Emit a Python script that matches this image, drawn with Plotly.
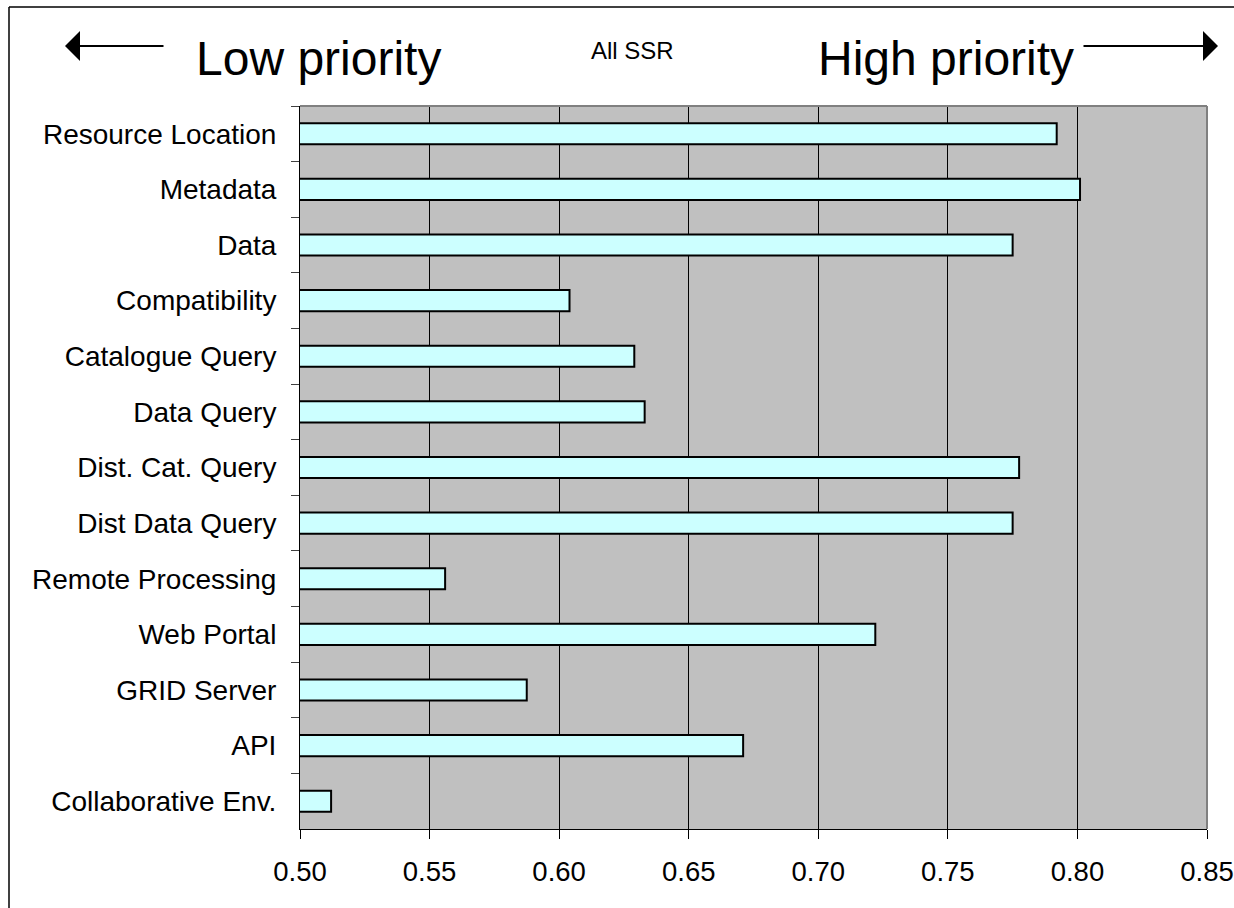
import plotly.graph_objects as go

categories = ["Resource Location", "Metadata", "Data", "Compatibility", "Catalogue Query",
              "Data Query", "Dist. Cat. Query", "Dist Data Query", "Remote Processing",
              "Web Portal", "GRID Server", "API", "Collaborative Env."]
values = [0.792, 0.801, 0.775, 0.604, 0.629, 0.633, 0.7775, 0.775, 0.556, 0.722, 0.5875, 0.671, 0.512]
x_ticks = [0.50, 0.55, 0.60, 0.65, 0.70, 0.75, 0.80, 0.85]
x_tick_labels = ["0.50", "0.55", "0.60", "0.65", "0.70", "0.75", "0.80", "0.85"]

W, H = 1234, 908
L, R, T, B = 300, 1207, 106, 829

def px(x):
    return (x - L) / (R - L)

def py(y):
    return (B - y) / (B - T)

FONT = "Arial, Liberation Sans, sans-serif"

fig = go.Figure(go.Bar(
    y=categories, x=values, orientation="h",
    marker=dict(color="#CCFFFF", line=dict(color="black", width=2)),
))

fig.update_layout(
    width=W, height=H,
    margin=dict(l=L, r=W - R, t=T, b=H - B, pad=0, autoexpand=False),
    paper_bgcolor="white", plot_bgcolor="#C0C0C0",
    bargap=0.62, showlegend=False,
    font=dict(family=FONT, color="black"),
    xaxis=dict(range=[0.5, 0.85], tickvals=x_ticks, ticktext=x_tick_labels,
               showgrid=True, gridcolor="black", gridwidth=1,
               ticks="outside", ticklen=9, tickcolor="black",
               showline=True, linecolor="black", linewidth=1,
               tickfont=dict(size=27.5, family=FONT), zeroline=False,
               automargin=False, ticklabelstandoff=9, ticklabeloverflow="allow"),
    yaxis=dict(categoryorder="array", categoryarray=categories, autorange="reversed",
               ticks="outside", tickson="boundaries", ticklen=8, tickcolor="#404040",
               showline=True, linecolor="black", linewidth=1, showgrid=False,
               tickfont=dict(size=28, family=FONT), automargin=False,
               ticklabelstandoff=17, ticklabeloverflow="allow"),
)

shapes = [
    dict(type="line", xref="paper", yref="paper", x0=0, x1=1, y0=1, y1=1,
         line=dict(color="#808080", width=2)),
    dict(type="line", xref="paper", yref="paper", x0=1, x1=1, y0=0, y1=1,
         line=dict(color="#808080", width=2)),
    dict(type="line", xref="paper", yref="paper", x0=px(9), x1=px(1240), y0=py(7), y1=py(7),
         line=dict(color="black", width=1.5)),
    dict(type="line", xref="paper", yref="paper", x0=px(9), x1=px(9), y0=py(7), y1=py(915),
         line=dict(color="black", width=1.5)),
]
fig.update_layout(shapes=shapes)

annotations = [
    dict(text="Low priority", xref="paper", yref="paper", x=px(318), y=py(58),
         showarrow=False, font=dict(size=48, family=FONT), xanchor="center", yanchor="middle"),
    dict(text="High priority", xref="paper", yref="paper", x=px(946), y=py(58),
         showarrow=False, font=dict(size=48, family=FONT), xanchor="center", yanchor="middle"),
    dict(text="All SSR", xref="paper", yref="paper", x=px(632), y=py(50),
         showarrow=False, font=dict(size=24, family=FONT), xanchor="center", yanchor="middle"),
    dict(text="", xref="paper", yref="paper", x=px(65), y=py(46), ax=100, ay=0,
         showarrow=True, arrowhead=1, arrowsize=2.5, arrowwidth=2, arrowcolor="black"),
    dict(text="", xref="paper", yref="paper", x=px(1218), y=py(46), ax=-136, ay=0,
         showarrow=True, arrowhead=1, arrowsize=2.5, arrowwidth=2, arrowcolor="black"),
]
fig.update_layout(annotations=annotations)

fig.write_html("out.html")
